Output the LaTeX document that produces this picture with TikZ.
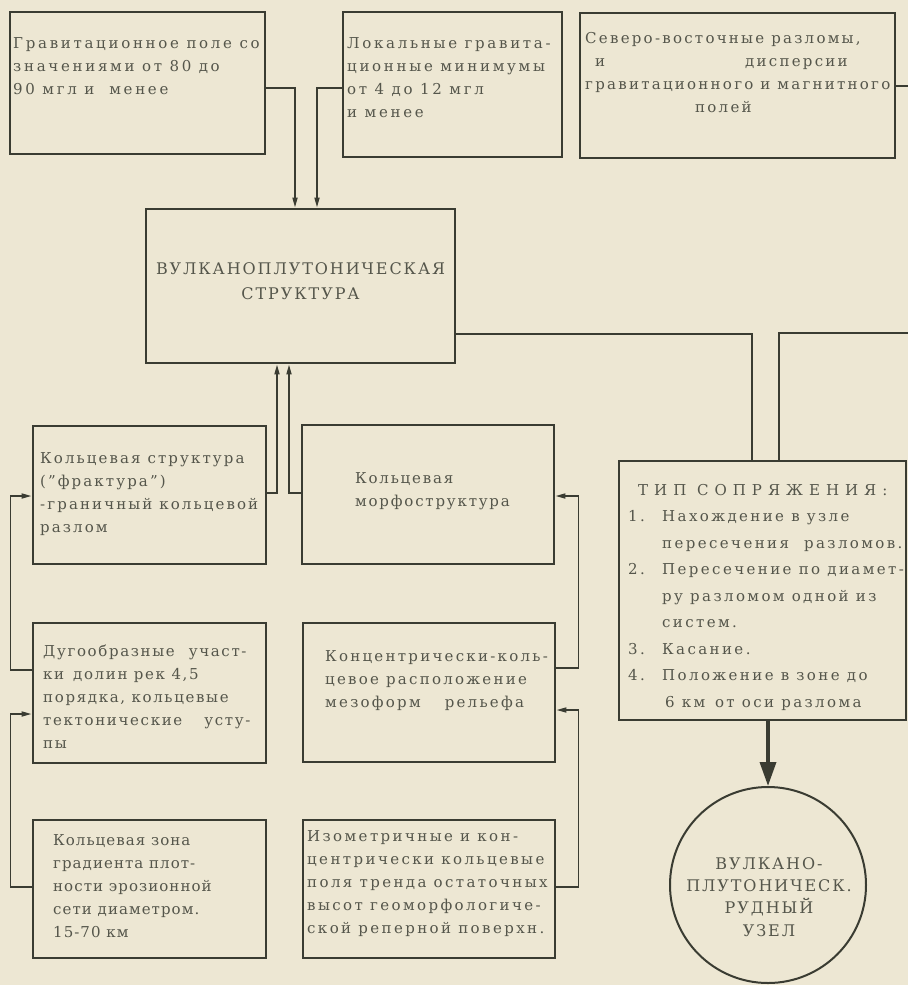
\documentclass[tikz,border=0pt]{standalone}
\usepackage{fontspec}
\setmainfont{DejaVu Serif}
\usetikzlibrary{arrows.meta,positioning}

\definecolor{paper}{HTML}{EDE7D3}
\definecolor{ink}{HTML}{3A3C32}
\definecolor{print}{HTML}{55564B}

\tikzset{
  box/.style={draw=ink, line width=2.9pt, rectangle, inner sep=0pt},
  txt/.style={text=print, align=left, inner sep=0pt,
    font=\fontsize{15}{23}\selectfont\addfontfeature{LetterSpace=#1}},
  txt/.default=12,
  link/.style={draw=ink, line width=2pt},
  feed/.style={draw=ink, line width=1.7pt, -{Triangle[length=10pt,width=5pt]}},
  heavy/.style={draw=ink, line width=3.5pt, -{Triangle[length=24pt,width=16pt]}},
}

\begin{document}
\begin{tikzpicture}[x=1pt,y=-1pt]
  \fill[paper] (0,0) rectangle (908,985);
  \useasboundingbox (0,0) rectangle (908,985);

  % top row
  \node[box, minimum width=255, minimum height=142] (grav) at (137.5,83) {};
  \node[box, minimum width=219, minimum height=145] (local) at (452.5,84.5) {};
  \node[box, minimum width=315, minimum height=145] (faults) at (737.5,85.5) {};
  \node[txt=18, anchor=north west] (grav-t) at (13,37)
    {Гравитационное поле со\\значениями от 80 до\\90 мгл и\ \ менее};
  \node[txt=18, anchor=north west] (local-t) at (347,37)
    {Локальные гравита-\\ционные минимумы\\ от 4 до 12 мгл\\и менее};
  \node[txt=15, anchor=north west] (faults-t) at (585,32)
    {Северо-восточные разломы,\\\hspace*{10pt}и\hspace{140pt}дисперсии\\
     гравитационного и магнитного\\\hspace*{110pt}полей};

  % central structure
  \node[box, minimum width=309, minimum height=154] (vps) at (300.5,286) {};
  \node[text=print, align=center, inner sep=0pt,
        font=\fontsize{16}{25}\selectfont\addfontfeature{LetterSpace=12}] (vps-t) at (300.5,281)
    {ВУЛКАНОПЛУТОНИЧЕСКАЯ\\СТРУКТУРА};

  % ring features
  \node[box, minimum width=233, minimum height=138] (ring) at (149.5,495) {};
  \node[box, minimum width=252, minimum height=139] (morph) at (428,494.5) {};
  \node[box, minimum width=233, minimum height=140] (arcs) at (149.5,693) {};
  \node[box, minimum width=252, minimum height=139] (conc) at (429,692.5) {};
  \node[box, minimum width=233, minimum height=138] (zone) at (149.5,889) {};
  \node[box, minimum width=252, minimum height=138] (iso) at (429,889) {};
  \node[txt=14, anchor=north west] (ring-t) at (40,452)
    {Кольцевая структура\\("фрактура")\\-граничный кольцевой\\разлом};
  \node[txt=12, anchor=north west] (morph-t) at (355,472)
    {Кольцевая\\морфоструктура};
  \node[txt=11, anchor=north west] (arcs-t) at (43,645)
    {Дугообразные\hspace{14pt}участ-\\ки\, долин рек 4,5\\порядка, кольцевые\\тектонические\hspace{22pt}усту-\\пы};
  \node[txt=15, anchor=north west] (conc-t) at (325,650)
    {Концентрически-коль-\\цевое расположение\\мезоформ\hspace{24pt}рельефа};
  \node[txt=7, anchor=north west] (zone-t) at (53,834)
    {Кольцевая зона\\градиента плот-\\ности эрозионной\\сети диаметром.\\15-70 км};
  \node[txt=16, anchor=north west] (iso-t) at (307,830)
    {Изометричные и кон-\\центрически кольцевые\\поля тренда остаточных\\высот геоморфологиче-\\ской реперной поверхн.};

  % conjugation type and ore node
  \node[box, minimum width=287, minimum height=259] (tip) at (762.5,590.5) {};
  \node[txt, anchor=north west,
        font=\fontsize{15}{26.5}\selectfont\addfontfeature{LetterSpace=16}] (tip-t) at (628,484)
    {\hspace*{10pt}{\addfontfeature{LetterSpace=40}ТИП СОПРЯЖЕНИЯ:}\\
     \makebox[34pt][l]{1.}Нахождение в узле\\
     \hspace*{34pt}пересечения\quad разломов.\\
     \makebox[34pt][l]{2.}Пересечение по диамет-\\
     \hspace*{34pt}ру разломом одной из\\
     \hspace*{34pt}систем.\\
     \makebox[34pt][l]{3.}Касание.\\
     \makebox[34pt][l]{4.}Положение в зоне до\\
     \hspace*{37pt}6 км\, от оси разлома};
  \node[draw=ink, line width=2pt, circle, minimum size=196, inner sep=0pt] (ore) at (768,885) {};
  \node[text=print, align=center, inner sep=0pt,
        font=\fontsize{16}{22.3}\selectfont\addfontfeature{LetterSpace=12}] (ore-t) at (769,897)
    {ВУЛКАНО-\\ПЛУТОНИЧЕСК.\\РУДНЫЙ\\УЗЕЛ};

  % connectors
  \draw[feed] ([yshift=-5pt]grav.east) -| ([xshift=-5.5pt]vps.north);
  \draw[feed] ([yshift=-3.5pt]local.west) -| ([xshift=16.5pt]vps.north);
  \draw[feed] ([yshift=2pt]ring.east) -| ([xshift=-23.5pt]vps.south);
  \draw[feed] ([yshift=1.5pt]morph.west) -| ([xshift=-11.5pt]vps.south);
  \draw[feed] ([yshift=23pt]arcs.west) -- ++(-21,0) |- ([yshift=-1pt]ring.west);
  \draw[feed] ([yshift=2pt]zone.west) -- ++(-21,0) |- ([yshift=-21pt]arcs.west);
  \draw[feed] ([yshift=24.5pt]conc.east) -- ++(22,0) |- ([yshift=-1.5pt]morph.east);
  \draw[feed] ([yshift=2pt]iso.east) -- ++(22,0) |- ([yshift=-17.5pt]conc.east);
  \draw[link] ([yshift=-48pt]vps.east) -| ([xshift=-10.5pt]tip.north);
  \coordinate (edge-r) at (908,333);
  \coordinate (edge-f) at (908,85.5);
  \draw[link] ([xshift=16.5pt]tip.north) |- (edge-r);
  \draw[link] (faults.east) -- (edge-f);
  \draw[heavy] (ore.north |- tip.south) -- (ore.north);
\end{tikzpicture}
\end{document}
